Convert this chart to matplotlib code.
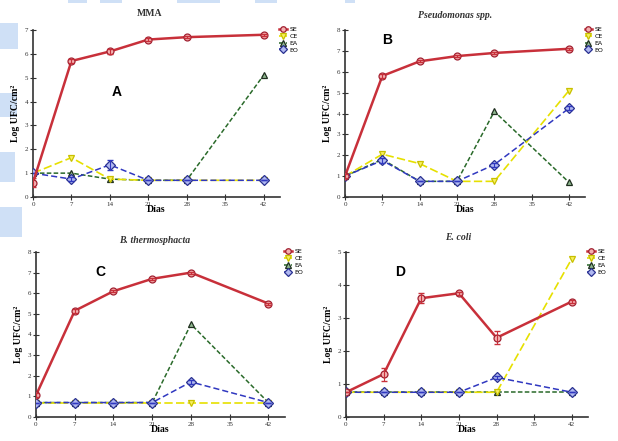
import matplotlib
matplotlib.use("Agg")
import matplotlib.pyplot as plt
from matplotlib.patches import Rectangle

days = [0, 7, 14, 21, 28, 42]
x_ticks = [0, 7, 14, 21, 28, 35, 42]
series_names = ["SE", "CE", "EA", "EO"]

# MMA
se_a = [0.6, 5.7, 6.1, 6.6, 6.7, 6.8]
ce_a = [1.0, 1.65, 0.75, 0.7, 0.7, 0.7]
ea_a = [1.0, 1.0, 0.75, 0.7, 0.7, 5.1]
eo_a = [1.0, 0.75, 1.35, 0.7, 0.7, 0.7]
se_a_err = [0.2, 0.1, 0.1, 0.05, 0.05, 0.05]
eo_a_err = [0.0, 0.1, 0.2, 0.0, 0.0, 0.0]

# Pseudomonas spp.
se_b = [1.0, 5.8, 6.5, 6.75, 6.9, 7.1]
ce_b = [1.0, 2.05, 1.6, 0.75, 0.75, 5.1]
ea_b = [1.0, 1.8, 0.75, 0.75, 4.1, 0.7]
eo_b = [1.0, 1.75, 0.75, 0.75, 1.55, 4.25]
se_b_err = [0.1, 0.1, 0.05, 0.05, 0.05, 0.05]
eo_b_err = [0.1, 0.1, 0.0, 0.0, 0.1, 0.1]

# B. thermosphacta
se_c = [1.05, 5.15, 6.1, 6.7, 7.0, 5.5]
ce_c = [0.7, 0.7, 0.7, 0.7, 0.7, 0.7]
ea_c = [0.7, 0.7, 0.7, 0.7, 4.5, 0.7]
eo_c = [0.7, 0.7, 0.7, 0.7, 1.7, 0.7]
se_c_err = [0.1, 0.1, 0.05, 0.05, 0.05, 0.05]
eo_c_err = [0.0, 0.0, 0.0, 0.0, 0.1, 0.0]

# E. coli
se_d = [0.75, 1.3, 3.6, 3.75, 2.4, 3.5]
ce_d = [0.75, 0.75, 0.75, 0.75, 0.75, 4.8]
ea_d = [0.75, 0.75, 0.75, 0.75, 0.75, 0.75]
eo_d = [0.75, 0.75, 0.75, 0.75, 1.2, 0.75]
se_d_err = [0.0, 0.2, 0.15, 0.05, 0.2, 0.05]
eo_d_err = [0.0, 0.0, 0.0, 0.0, 0.05, 0.0]

panels = [
    ("MMA", "normal", "A", 7, [se_a, ce_a, ea_a, eo_a], se_a_err, eo_a_err),
    ("Pseudomonas spp.", "italic", "B", 8, [se_b, ce_b, ea_b, eo_b], se_b_err, eo_b_err),
    ("B. thermosphacta", "italic", "C", 8, [se_c, ce_c, ea_c, eo_c], se_c_err, eo_c_err),
    ("E. coli", "italic", "D", 5, [se_d, ce_d, ea_d, eo_d], se_d_err, eo_d_err),
]

# axes boxes in pixels: left, right, top, bottom
boxes = [(33, 280, 30, 197), (345, 585, 30, 197), (36, 285, 252, 417), (346, 588, 252, 417)]
letter_pos = [(117, 92), (387, 40), (100, 272), (400, 272)]
title_pos = [(150, 14), (455, 15), (155, 240), (458, 238)]

styles = [
    dict(color="#c8303a", ls="-", lw=1.8, marker="o", mfc="#f5b0b0", mec="#a02030", zorder=5),
    dict(color="#e6e000", ls=(0, (5, 2)), lw=1.2, marker="v", mfc="#f8f060", mec="#c8c000", zorder=3),
    dict(color="#2a6a2a", ls=(0, (3, 1.5)), lw=1.1, marker="^", mfc="#90b890", mec="#203020", zorder=2),
    dict(color="#3038c0", ls=(0, (4, 2)), lw=1.1, marker="D", mfc="#b0b8f0", mec="#283090", zorder=4),
]

W, H = 618, 441
fig = plt.figure(figsize=(W / 100, H / 100), dpi=100)
serif = "Liberation Serif"

# page decorations in the screenshot (kept behind the axes)
for (x0, y0, w, h) in [(0, 23, 18, 26), (0, 93, 17, 24), (0, 152, 15, 30), (0, 207, 22, 30),
                       (68, 0, 19, 3), (100, 0, 22, 3), (177, 0, 43, 3), (255, 0, 22, 3), (345, 0, 10, 3)]:
    fig.add_artist(Rectangle((x0 / W, 1 - (y0 + h) / H), w / W, h / H,
                             transform=fig.transFigure, color="#cfe0f6", lw=0, zorder=-5))

for i, (title, tstyle, letter, ymax, vals, se_err, eo_err) in enumerate(panels):
    l, r, t, b = boxes[i]
    ax = fig.add_axes([l / W, 1 - b / H, (r - l) / W, (b - t) / H])
    ax.patch.set_alpha(0)
    for j, name in enumerate(series_names):
        st = styles[j]
        ax.plot(days, vals[j], color=st["color"], ls=st["ls"], lw=st["lw"], marker=st["marker"],
                ms=5, mfc=st["mfc"], mec=st["mec"], mew=0.9, zorder=st["zorder"], label=name)
    ax.errorbar(days, vals[0], yerr=se_err, fmt="none", ecolor="#c8303a", elinewidth=0.8, capsize=2, zorder=5)
    ax.errorbar(days, vals[3], yerr=eo_err, fmt="none", ecolor="#3038c0", elinewidth=0.8, capsize=2, zorder=4)
    ax.set_xlim(0, 45)
    ax.set_ylim(0, ymax)
    ax.set_xticks(x_ticks)
    ax.set_yticks(range(0, ymax + 1))
    ax.spines["top"].set_visible(False)
    ax.spines["right"].set_visible(False)
    for s in ("left", "bottom"):
        ax.spines[s].set_linewidth(1.2)
        ax.spines[s].set_color("#333333")
    ax.tick_params(direction="inout", length=4, width=0.8, labelsize=5, pad=1.5, colors="#333333")
    for lab in ax.get_xticklabels() + ax.get_yticklabels():
        lab.set_fontfamily(serif)
    ax.set_xlabel("Días", fontsize=7, fontweight="bold", family=serif, labelpad=-1)
    ax.set_ylabel("Log UFC/cm²", fontsize=7, fontweight="bold", family=serif, labelpad=3)
    ax.legend(loc="upper left", bbox_to_anchor=(0.985, 1.04), frameon=False, fontsize=4.5,
              handlelength=1.2, handletextpad=0.4, labelspacing=0.25, borderpad=0, markerscale=0.8)
    tx, ty = title_pos[i]
    fig.text(tx / W, 1 - ty / H, title, ha="center", va="center", fontsize=7, fontweight="bold",
             style=tstyle, family=serif, color="#333333")
    lx, ly = letter_pos[i]
    fig.text(lx / W, 1 - ly / H, letter, ha="center", va="center", fontsize=10, fontweight="bold",
             family="Liberation Sans")

fig.savefig("out.png", dpi=100)
